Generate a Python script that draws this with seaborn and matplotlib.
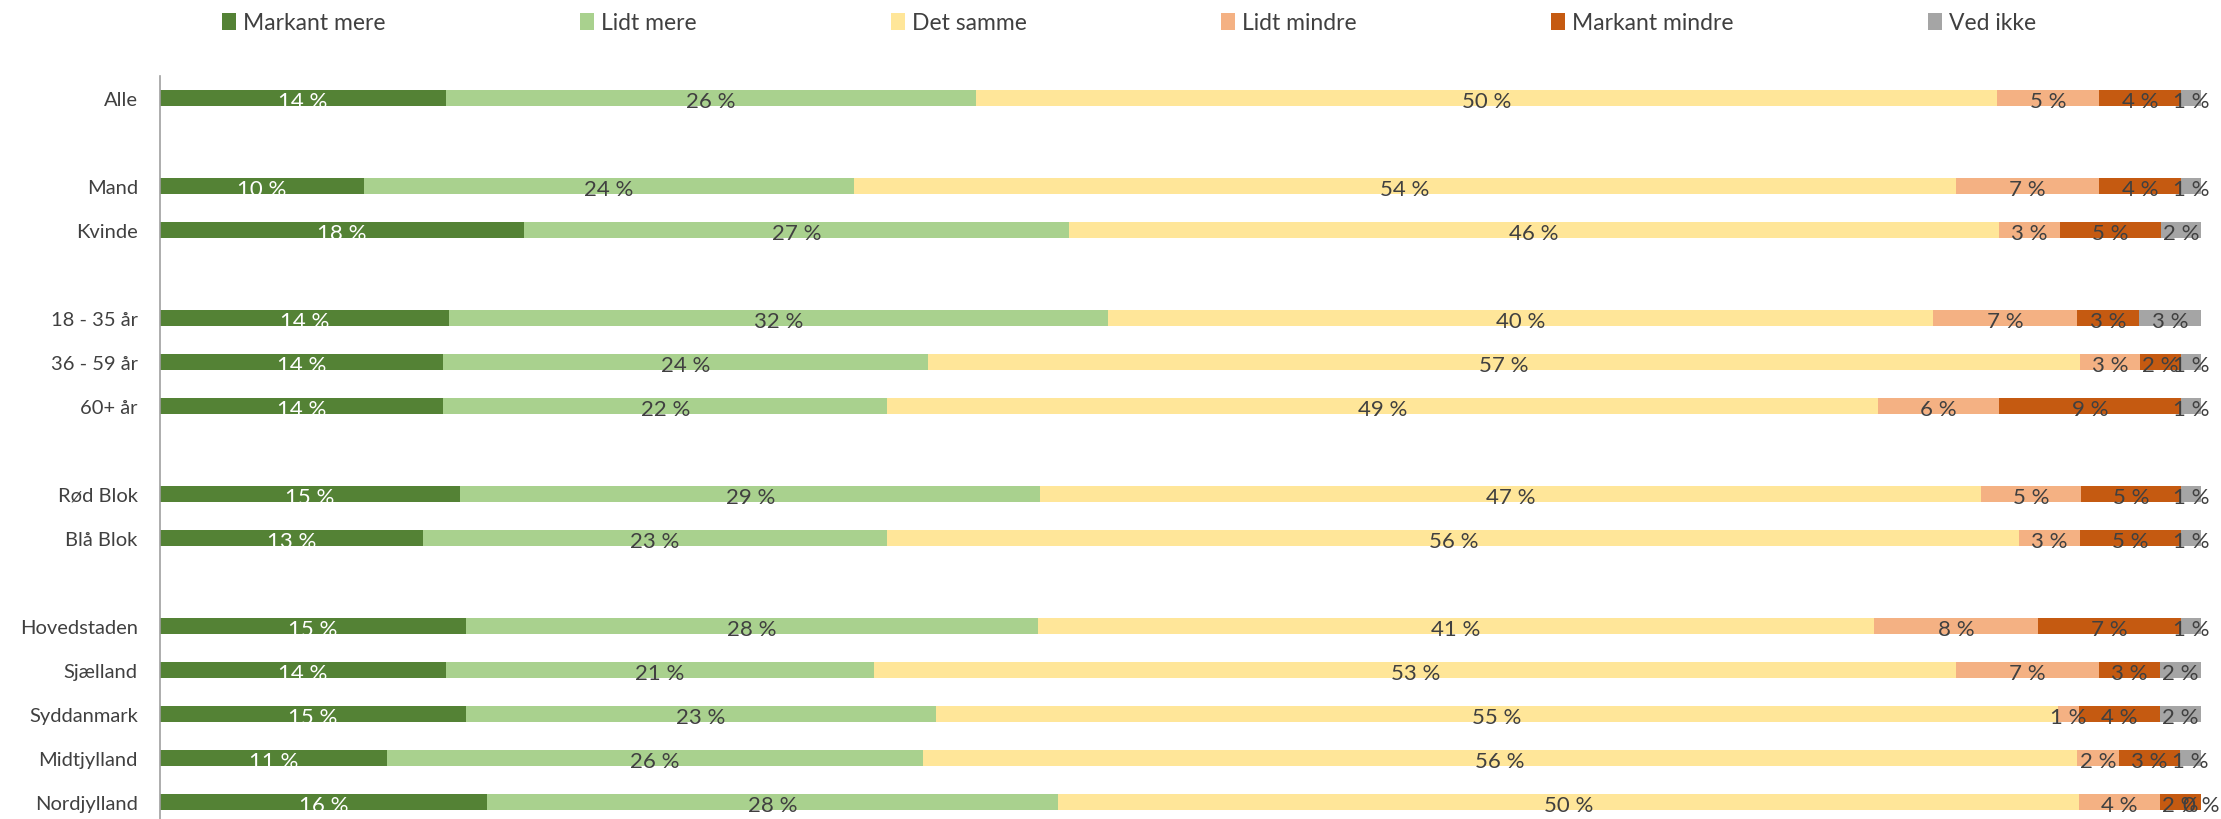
import matplotlib
matplotlib.use("Agg")
import matplotlib.pyplot as plt
from matplotlib.patches import Patch
import numpy as np
import pandas as pd
import seaborn as sns

# categories, blank strings are the empty spacer rows between groups
rows = ['Alle', ' ', 'Mand', 'Kvinde', '  ', '18 - 35 år', '36 - 59 år', '60+ år', '   ',
        'Rød Blok', 'Blå Blok', '    ', 'Hovedstaden', 'Sjælland', 'Syddanmark', 'Midtjylland', 'Nordjylland']
series = ['Markant mere', 'Lidt mere', 'Det samme', 'Lidt mindre', 'Markant mindre', 'Ved ikke']
colors = ['#548235', '#A9D18E', '#FFE699', '#F4B183', '#C55A11', '#A5A5A5']

markant_mere   = [14, None, 10, 18, None, 14, 14, 14, None, 15, 13, None, 15, 14, 15, 11, 16]
lidt_mere      = [26, None, 24, 27, None, 32, 24, 22, None, 29, 23, None, 28, 21, 23, 26, 28]
det_samme      = [50, None, 54, 46, None, 40, 57, 49, None, 47, 56, None, 41, 53, 55, 56, 50]
lidt_mindre    = [5, None, 7, 3, None, 7, 3, 6, None, 5, 3, None, 8, 7, 1, 2, 4]
markant_mindre = [4, None, 4, 5, None, 3, 2, 9, None, 5, 5, None, 7, 3, 4, 3, 2]
ved_ikke       = [1, None, 1, 2, None, 3, 1, 1, None, 1, 1, None, 1, 2, 2, 1, 0]

df = pd.DataFrame({'Markant mere': markant_mere, 'Lidt mere': lidt_mere, 'Det samme': det_samme,
                   'Lidt mindre': lidt_mindre, 'Markant mindre': markant_mindre, 'Ved ikke': ved_ikke},
                  index=rows, dtype=float)

# 100 % stacked: each row scaled to its own total
share = df.div(df.sum(axis=1).replace(0, np.nan), axis=0) * 100
cum = share.cumsum(axis=1)

sns.set_style('white')
plt.rcParams['font.family'] = ['Lato', 'DejaVu Sans']
txt = '#404040'

fig = plt.figure(figsize=(22.21, 8.20), dpi=100)
ax = fig.add_axes([160/2221, 1 - 825/820, (2201 - 160)/2221, (825 - 77)/820])

# draw longest cumulative first so shorter ones sit on top
for i in range(len(series) - 1, -1, -1):
    d = pd.DataFrame({'row': rows, 'val': cum[series[i]].values})
    sns.barplot(data=d, x='val', y='row', order=rows, color=colors[i], width=0.38,
                errorbar=None, linewidth=0, saturation=1, ax=ax)

for r, name in enumerate(rows):
    if df.loc[name].isna().all():
        continue
    left = 0
    for i, s in enumerate(series):
        w = share.loc[name, s]
        ax.text(left + w/2, r + 0.07, f'{int(df.loc[name, s])} %', ha='center', va='center',
                fontsize=16, color='white' if i == 0 else txt)
        left += w

ax.set_xlim(0, 100)
ax.set_ylim(16.5, -0.5)
ax.set_xlabel('')
ax.set_ylabel('')
ax.set_xticks([])
ax.set_yticks(range(len(rows)))
ax.set_yticklabels(rows, fontsize=14.5, color=txt)
ax.tick_params(axis='y', which='major', length=0, pad=16)
ax.set_yticks(np.arange(-0.5, len(rows)), minor=True)
ax.tick_params(axis='y', which='minor', length=7, color='#A0A0A0', width=1.2)
for sp in ['top', 'right', 'bottom']:
    ax.spines[sp].set_visible(False)
ax.spines['left'].set_color('#A0A0A0')
ax.spines['left'].set_linewidth(1.2)

handles = [Patch(facecolor=c, edgecolor='none') for c in colors]
fig.legend(handles, series, ncol=6, loc='center left', bbox_to_anchor=(222/2221, 1 - 24/820),
           frameon=False, fontsize=16.5, handlelength=0.6, handleheight=0.7, handletextpad=0.3,
           columnspacing=8.5, borderpad=0, borderaxespad=0, labelcolor=txt)

fig.savefig('out.png', dpi=100)
